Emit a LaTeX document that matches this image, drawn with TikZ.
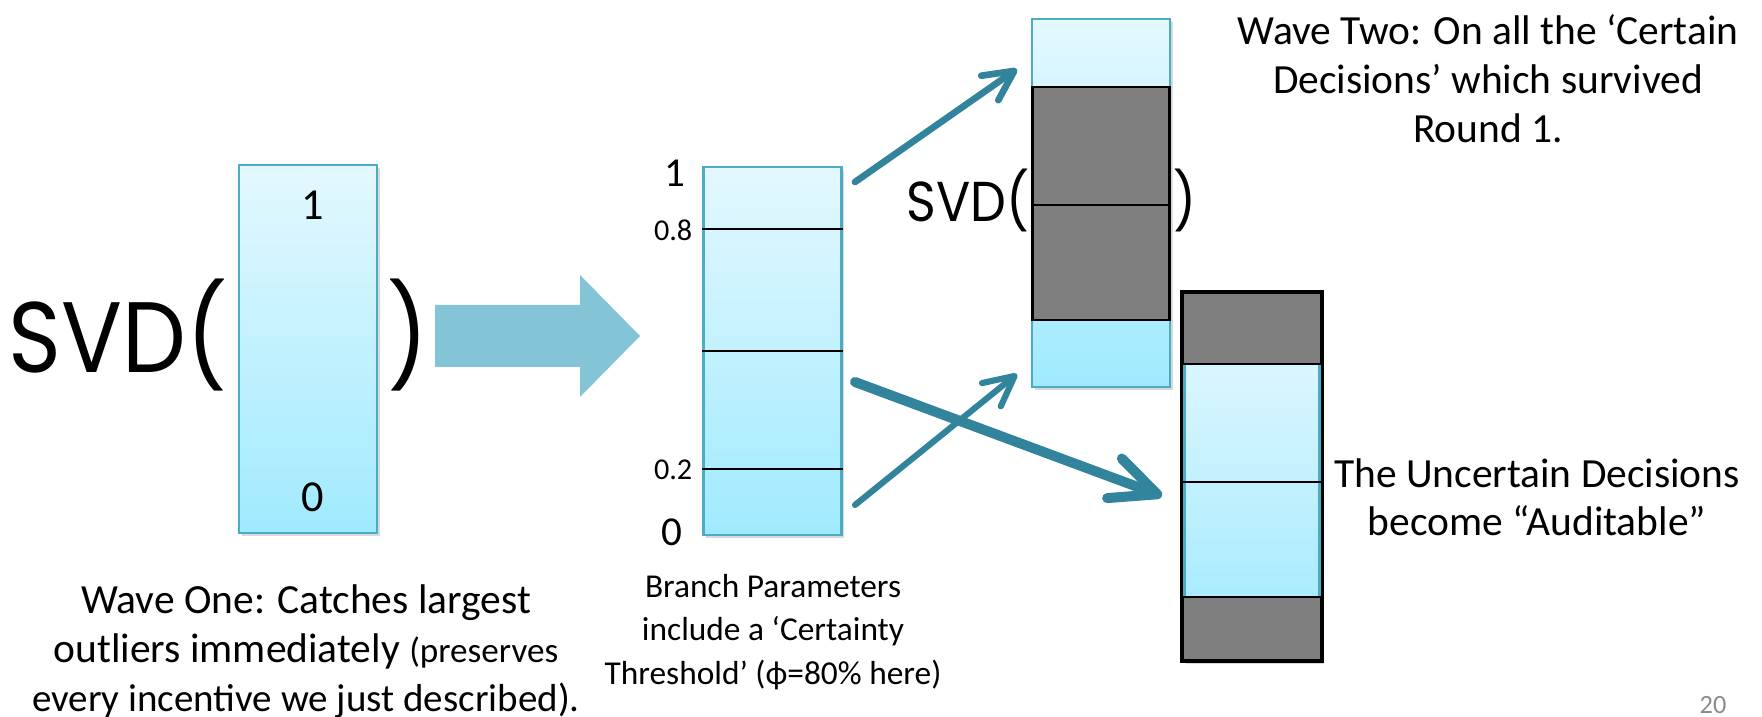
\documentclass[tikz,border=0pt]{standalone}
\usepackage{fontspec}
\setmainfont{Carlito}
\newfontfamily\gothicfont[FakeStretch=0.9]{Poppins}
\usetikzlibrary{arrows.meta,shadows}
\definecolor{barTop}{HTML}{E4F8FE}
\definecolor{barBottom}{HTML}{A0EAFE}
\definecolor{barEdge}{HTML}{4BACC6}
\definecolor{sliceGray}{HTML}{7F7F7F}
\definecolor{blockTeal}{HTML}{83C5D6}
\definecolor{arrowTeal}{HTML}{31849B}
\definecolor{pageGray}{HTML}{8C8C8C}
\begin{document}
\begin{tikzpicture}
[barShape/.style={line width=0.8pt,minimum width=1.38cm,minimum height=3.68cm,inner sep=0pt,
   drop shadow={opacity=0.3,shadow xshift=0.025cm,shadow yshift=-0.035cm}},
  barDecorate/.style={barShape,draw=barEdge,top color=barTop,bottom color=barBottom},
  sliceDecorate/.style={fill=sliceGray,draw=black,line width=0.7pt},
  lineDecorate/.style={draw=black,line width=0.7pt},
  arrowDecorate/.style={draw=arrowTeal,line width=1.9pt,line cap=round,
   -{Straight Barb[length=8.5pt,width=8.5pt,round]}},
  heavyArrowDecorate/.style={draw=arrowTeal,line width=2.85pt,line cap=round,
   -{Straight Barb[length=13pt,width=12pt,round]}},
  numDecorate/.style={inner sep=0pt,font=\fontsize{12.6}{14}\selectfont},
  tickDecorate/.style={inner sep=0pt,anchor=east,font=\fontsize{8.6}{10}\selectfont},
  svdDecorate/.style={inner sep=0pt,font=\gothicfont\fontsize{28.5}{30}\selectfont},
  svdSmallDecorate/.style={inner sep=0pt,font=\gothicfont\fontsize{16}{18}\selectfont},
  noteDecorate/.style={inner sep=0pt,align=center,anchor=north,font=\fontsize{11.8}{13.9}\selectfont},
  scale=1]
\useasboundingbox (0,0) rectangle (17.62,7.17);
%% bars
\foreach \nodename/\x/\y in {box1/3.08/3.68, box2/7.725/3.66, box3/11.01/5.14}
{
  \node (\nodename) at (\x,\y) [barDecorate] {};
}
\node (box4) at (12.52,2.405) [barShape,fill=sliceGray,draw=black] {};
\node (box4mid) at (12.52,2.365) [draw=barEdge,line width=0.8pt,minimum width=1.35cm,minimum height=2.33cm,
  top color=barTop!85!barBottom,bottom color=barBottom!85!barTop] {};
\draw[lineDecorate] (box4.north west) rectangle (box4.south east);
%% slices
\filldraw[sliceDecorate] ([xshift=0.02cm]box3.west |- 0,3.97) rectangle ([xshift=-0.02cm]box3.east |- 0,6.30);
\draw[lineDecorate] (box3.west |- 0,5.12) -- (box3.east |- 0,5.12);
\foreach \y in {4.88, 3.66, 2.48}
  \draw[lineDecorate] (box2.west |- 0,\y) -- (box2.east |- 0,\y);
\foreach \y in {3.53, 2.35, 1.20}
  \draw[lineDecorate] (box4.west |- 0,\y) -- (box4.east |- 0,\y);
%% labels
\node (top1) at (3.13,5.12) [numDecorate] {1};
\node (bottom1) at (3.13,2.20) [numDecorate] {0};
\node (top2) at (6.86,5.44) [numDecorate,anchor=east,font=\fontsize{11.7}{13}\selectfont] {1};
\node (high2) at (6.93,4.87) [tickDecorate] {0.8};
\node (low2) at (6.93,2.47) [tickDecorate] {0.2};
\node (bottom2) at (6.83,1.85) [numDecorate,anchor=east,font=\fontsize{11.7}{13}\selectfont] {0};
\node (svdBig) at (2.28,3.44) [svdDecorate,anchor=base east] {SVD(};
\node (closeBig) at (3.87,3.44) [svdDecorate,anchor=base west] {)};
\node (svdSmall) at (10.30,4.95) [svdSmallDecorate,anchor=base east] {SVD(};
\node (closeSmall) at (11.73,4.95) [svdSmallDecorate,anchor=base west] {)};
%% big arrow
\fill[blockTeal] (4.35,4.12) -- (5.80,4.12) -- (5.80,4.42) -- (6.40,3.81)
  -- (5.80,3.20) -- (5.80,3.50) -- (4.35,3.50) -- cycle;
%% branch arrows
\coordinate (outHigh) at (8.55,5.35);
\coordinate (inHigh) at (10.17,6.48);
\coordinate (outLow) at (8.55,2.12);
\coordinate (inLow) at (10.17,3.43);
\coordinate (outMid) at (8.55,3.35);
\coordinate (inMid) at (11.62,2.21);
\draw[arrowDecorate] (outHigh) -- (inHigh);
\draw[arrowDecorate,line width=1.75pt] (outLow) -- (inLow);
\draw[heavyArrowDecorate] (outMid) -- (inMid);
%% notes
\node (waveTwo) at (14.88,7.03) [noteDecorate] {Wave Two: On all the ‘Certain\\Decisions’ which survived\\Round 1.};
\node (auditNote) at (15.37,2.59) [noteDecorate,font=\fontsize{11.8}{13.7}\selectfont] {The Uncertain Decisions\\become “Auditable”};
\node (waveOne) at (3.06,1.33) [noteDecorate,font=\fontsize{11.8}{14}\selectfont] {Wave One: Catches largest\\outliers immediately {\fontsize{10}{14}\selectfont(preserves}\\{\fontsize{11.1}{14}\selectfont every incentive we just described).}};
\node (branchNote) at (7.73,1.435) [noteDecorate,font=\fontsize{9.5}{12.4}\selectfont] {Branch Parameters\\include a ‘Certainty\\Threshold’ (ϕ=80\% here)};
\node (pageNum) at (17.13,0.12) [text=pageGray,font=\fontsize{7.5}{8}\selectfont] {20};
\end{tikzpicture}
\end{document}
